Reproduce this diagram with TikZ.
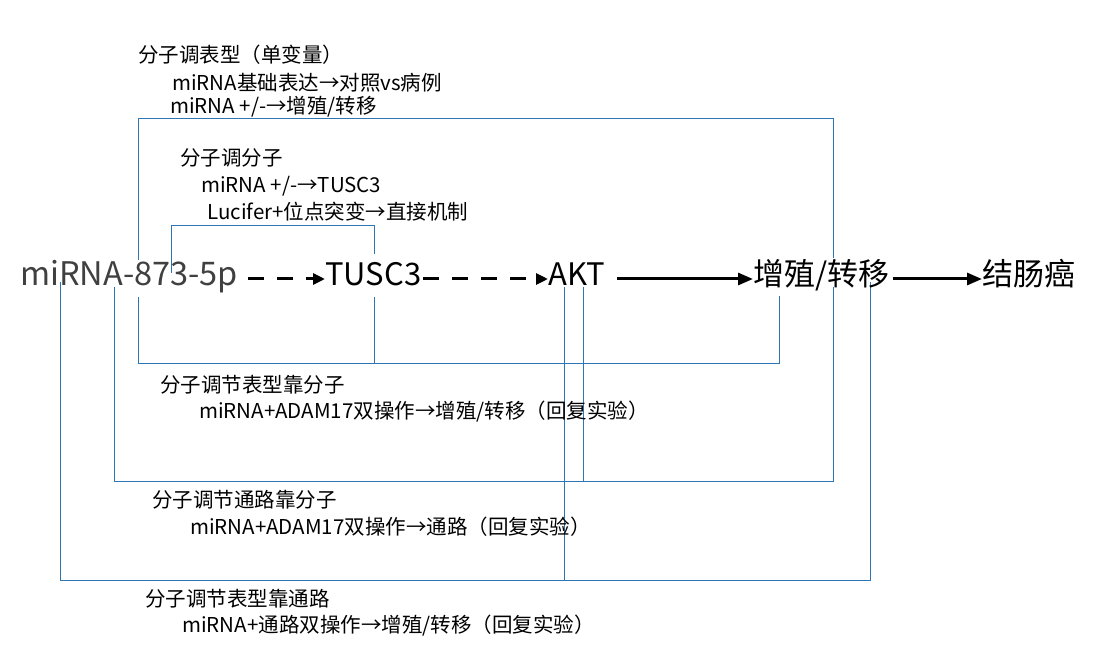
\documentclass[tikz,border=0pt]{standalone}
\usepackage{fontspec}
\setmainfont{Noto Sans CJK SC}
\usetikzlibrary{arrows.meta}
\definecolor{linkblue}{HTML}{2E75B6}
\definecolor{mirgray}{HTML}{404040}
\tikzset{
  term/.style={inner sep=0pt, anchor=base west, font=\fontsize{31}{36}\selectfont},
  note/.style={inner sep=0pt, anchor=west, font=\fontsize{20.5}{24}\selectfont},
  bracket/.style={draw=linkblue, line width=1pt},
  weak/.style={line width=3pt, dash pattern=on 16pt off 13pt, -{Triangle[length=12pt,width=11pt]}},
  strong/.style={line width=3pt, -{Triangle[length=15pt,width=12pt]}},
}
\begin{document}
\begin{tikzpicture}[x=1pt, y=-1pt]
  \useasboundingbox[fill=white] (0,0) rectangle (1098,652);

  % Bracket feet
  \coordinate (mirA) at (138,260);
  \coordinate (prolifA) at (833,258);
  \coordinate (mirB) at (171,273);
  \coordinate (tuscB) at (374,254);
  \coordinate (mirC) at (138,297);
  \coordinate (tuscC) at (374,297);
  \coordinate (prolifC) at (779,296);
  \coordinate (mirD) at (114,287);
  \coordinate (aktD) at (583,287);
  \coordinate (prolifD) at (833,287);
  \coordinate (mirE) at (60,282);
  \coordinate (aktE) at (564,287);
  \coordinate (prolifE) at (870,282);

  % Brackets
  \draw[bracket] (mirA) -- ++(0,-141) -| (prolifA);
  \draw[bracket] (mirB) -- ++(0,-47) -| (tuscB);
  \draw[bracket] (mirC) -- ++(0,67) -| (prolifC);
  \draw[bracket] (tuscC) -- ++(0,67);
  \draw[bracket] (mirD) -- ++(0,194) -| (prolifD);
  \draw[bracket] (aktD) -- ++(0,194);
  \draw[bracket] (mirE) -- ++(0,298) -| (prolifE);
  \draw[bracket] (aktE) -- ++(0,293);

  % Main chain
  \node[term, text=mirgray, font=\fontsize{32.5}{36}\selectfont] (mir) at (20,286) {miRNA-873-5p};
  \node[term] (tusc) at (325,286) {TUSC3};
  \node[term] (akt) at (548,286) {AKT};
  \node[term] (prolif) at (753,286) {增殖/转移};
  \node[term] (crc) at (982,286) {结肠癌};

  \draw[weak, shorten <=10pt] ([yshift=7pt]mir.base east) -- ([yshift=7pt]tusc.base west);
  \draw[weak, shorten <=2pt] ([yshift=7pt]tusc.base east) -- ([yshift=7pt]akt.base west);
  \draw[strong, shorten <=12pt] ([yshift=7pt]akt.base east) -- ([yshift=7pt]prolif.base west);
  \draw[strong, shorten <=3pt] ([yshift=7pt]prolif.base east) -- ([yshift=7pt]crc.base west);

  % Labels
  \node[note] (phenoT) at (138,55) {分子调表型（单变量）};
  \node[note] (phenoL1) at (172,83) {miRNA基础表达→对照vs病例};
  \node[note] (phenoL2) at (170,107) {miRNA +/-→增殖/转移};
  \node[note] (molT) at (180,158) {分子调分子};
  \node[note] (molL1) at (201,186) {miRNA +/-→TUSC3};
  \node[note] (molL2) at (207,212) {Lucifer+位点突变→直接机制};
  \node[note] (rescT) at (160,385) {分子调节表型靠分子};
  \node[note] (rescL) at (199,412) {miRNA+ADAM17双操作→增殖/转移（回复实验）};
  \node[note] (pathT) at (152,500) {分子调节通路靠分子};
  \node[note] (pathL) at (190,527) {miRNA+ADAM17双操作→通路（回复实验）};
  \node[note] (viaT) at (145,599) {分子调节表型靠通路};
  \node[note] (viaL) at (182,626) {miRNA+通路双操作→增殖/转移（回复实验）};
\end{tikzpicture}
\end{document}
